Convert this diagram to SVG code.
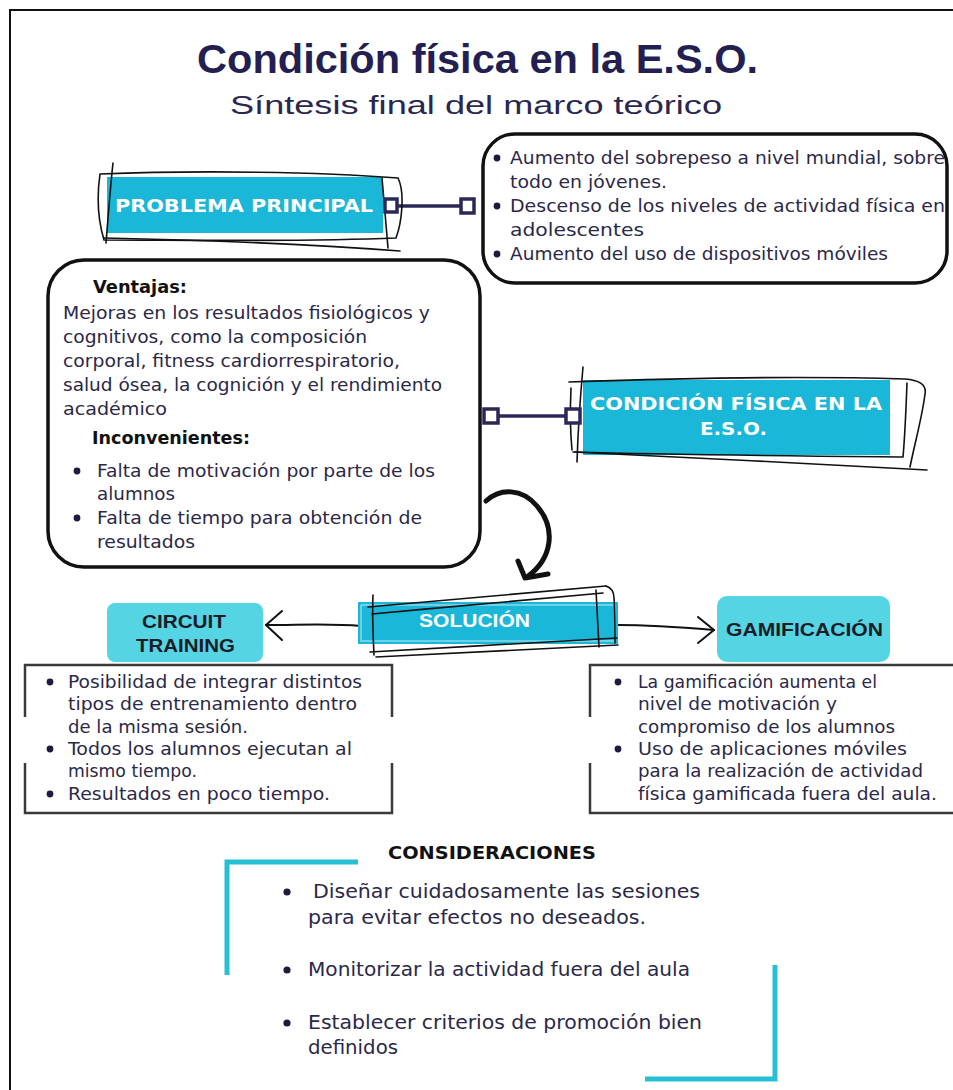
<svg xmlns="http://www.w3.org/2000/svg" width="953" height="1090" viewBox="0 0 953 1090">
  <style>
    .frame { fill: none; stroke: #111; stroke-width: 2; }
    .title { font-family: "Liberation Sans", Arial, sans-serif; font-weight: 700; font-size: 40px; fill: #231f52; }
    .sub { font-family: "Liberation Sans", Arial, sans-serif; font-size: 26px; fill: #2a2750; }
    .body { font-family: "DejaVu Sans", "Liberation Sans", sans-serif; font-size: 18px; fill: #2b2848; }
    .body19 { font-family: "DejaVu Sans", "Liberation Sans", sans-serif; font-size: 19px; fill: #2b2848; }
    .bold { font-family: "DejaVu Sans", "Liberation Sans", sans-serif; font-weight: 700; font-size: 17px; fill: #111; }
    .lblw { font-family: "DejaVu Sans", "Liberation Sans", sans-serif; font-weight: 700; font-size: 18px; fill: #fff; }
    .lblw2 { font-family: "Liberation Sans", Arial, sans-serif; font-weight: 700; font-size: 19px; fill: #fff; }
    .lbld { font-family: "Liberation Sans", Arial, sans-serif; font-weight: 700; font-size: 19px; fill: #1c1c28; }
    .bullet { fill: #1e1b3e; }
    .cyan { fill: #1ab7d8; }
    .cyanlight { fill: #55d5e3; }
    .roundbox { fill: #fff; stroke: #111; stroke-width: 3.5; }
    .sketch { fill: none; stroke: #111; stroke-width: 1.6; stroke-linecap: round; }
    .link { fill: none; stroke: #2b2858; stroke-width: 3.5; }
    .port { fill: #fff; stroke: #2b2858; stroke-width: 3.5; }
    .bracket { fill: none; stroke: #3a3a3a; stroke-width: 2.5; }
    .cbracket { fill: none; stroke: #27bfd5; stroke-width: 5; }
    .arrow { fill: none; stroke: #111; stroke-width: 2; stroke-linecap: round; stroke-linejoin: round; }
    .bigarrow { fill: none; stroke: #111; stroke-width: 5; stroke-linecap: round; stroke-linejoin: round; }
  </style>

  <rect x="0" y="0" width="953" height="1090" fill="#fff"/>
  <path class="frame" d="M10,1090 V10 H953"/>

  <g id="header">
    <text class="title" x="197" y="73" textLength="561" lengthAdjust="spacingAndGlyphs">Condición física en la E.S.O.</text>
    <text class="sub" x="230" y="114" textLength="492" lengthAdjust="spacingAndGlyphs">Síntesis final del marco teórico</text>
  </g>

  <!-- connectors -->
  <g id="connectors">
    <line class="link" x1="397" y1="206" x2="461" y2="206"/>
    <line class="link" x1="498" y1="416" x2="566" y2="416"/>
    <!-- curved arrow towards the solution -->
    <path class="bigarrow" d="M486,501 C500,488 522,488 537,506 C556,528 553,558 527,577"/>
    <path class="bigarrow" d="M518,561 L525,578 L548,574"/>
    <!-- solution to circuit training -->
    <path class="arrow" d="M361,626 C330,623 300,625 266,625"/>
    <path class="arrow" d="M282,611 L266,625 L282,640"/>
    <!-- solution to gamification -->
    <path class="arrow" d="M618,625 C650,625 690,628 714,630"/>
    <path class="arrow" d="M698,617 L714,630 L698,643"/>
  </g>

  <g id="problema-principal">
    <rect class="cyan" x="107" y="177" width="276" height="56"/>
    <path class="sketch" d="M100,174 C200,170 320,172 398,178 C405,192 402,222 396,238 C300,242 180,240 104,240 C98,220 97,195 100,174"/>
    <path class="sketch" d="M113,163 C110,190 108,220 106,243"/>
    <path class="sketch" d="M104,238 C200,240 320,245 400,251"/>
    <path class="sketch" d="M382,178 C384,200 386,225 388,248"/>
    <text class="lblw" x="115" y="212" textLength="258" lengthAdjust="spacingAndGlyphs">PROBLEMA PRINCIPAL</text>
    <rect class="port" x="385" y="199" width="12" height="13"/>
  </g>

  <g id="problema-lista">
    <rect class="roundbox" x="483" y="134" width="464" height="149" rx="32"/>
    <rect class="port" x="461" y="199" width="13" height="14"/>
    <circle class="bullet" cx="497" cy="158" r="3.4"/>
    <circle class="bullet" cx="497" cy="206" r="3.4"/>
    <circle class="bullet" cx="497" cy="254" r="3.4"/>
    <text class="body" x="510" y="164" textLength="435" lengthAdjust="spacingAndGlyphs">Aumento del sobrepeso a nivel mundial, sobre</text>
    <text class="body" x="510" y="188" textLength="157" lengthAdjust="spacingAndGlyphs">todo en jóvenes.</text>
    <text class="body" x="510" y="212" textLength="435" lengthAdjust="spacingAndGlyphs">Descenso de los niveles de actividad física en</text>
    <text class="body" x="510" y="236" textLength="134" lengthAdjust="spacingAndGlyphs">adolescentes</text>
    <text class="body" x="510" y="260" textLength="378" lengthAdjust="spacingAndGlyphs">Aumento del uso de dispositivos móviles</text>
  </g>

  <g id="ventajas">
    <rect class="roundbox" x="48" y="260" width="432" height="307" rx="36"/>
    <rect class="port" x="484" y="409" width="14" height="14"/>
    <text class="bold" x="93" y="293" textLength="94" lengthAdjust="spacingAndGlyphs">Ventajas:</text>
    <text class="body" x="63" y="319" textLength="367" lengthAdjust="spacingAndGlyphs">Mejoras en los resultados fisiológicos y</text>
    <text class="body" x="63" y="343" textLength="304" lengthAdjust="spacingAndGlyphs">cognitivos, como la composición</text>
    <text class="body" x="63" y="367" textLength="337" lengthAdjust="spacingAndGlyphs">corporal, fitness cardiorrespiratorio,</text>
    <text class="body" x="63" y="391" textLength="379" lengthAdjust="spacingAndGlyphs">salud ósea, la cognición y el rendimiento</text>
    <text class="body" x="63" y="415" textLength="104" lengthAdjust="spacingAndGlyphs">académico</text>
    <text class="bold" x="92" y="444" textLength="158" lengthAdjust="spacingAndGlyphs">Inconvenientes:</text>
    <circle class="bullet" cx="77" cy="471" r="3.4"/>
    <circle class="bullet" cx="77" cy="518" r="3.4"/>
    <text class="body" x="97" y="477" textLength="338" lengthAdjust="spacingAndGlyphs">Falta de motivación por parte de los</text>
    <text class="body" x="97" y="500" textLength="78" lengthAdjust="spacingAndGlyphs">alumnos</text>
    <text class="body" x="97" y="524" textLength="325" lengthAdjust="spacingAndGlyphs">Falta de tiempo para obtención de</text>
    <text class="body" x="97" y="548" textLength="98" lengthAdjust="spacingAndGlyphs">resultados</text>
  </g>

  <g id="condicion-fisica">
    <rect class="cyan" x="583" y="380" width="307" height="75"/>
    <path class="sketch" d="M569,382 C680,378 800,376 905,379 C918,380 927,384 925,394 C922,418 915,442 910,467"/>
    <path class="sketch" d="M907,383 C906,410 905,435 903,457 C800,456 680,455 575,452"/>
    <path class="sketch" d="M583,367 C580,400 578,430 577,462"/>
    <path class="sketch" d="M571,388 C570,410 570,430 572,450"/>
    <path class="sketch" d="M573,452 C690,458 810,463 927,470"/>
    <rect class="port" x="566" y="409" width="14" height="14"/>
    <text class="lblw" x="590" y="410" textLength="292" lengthAdjust="spacingAndGlyphs">CONDICIÓN FÍSICA EN LA</text>
    <text class="lblw" x="700" y="435" textLength="67" lengthAdjust="spacingAndGlyphs">E.S.O.</text>
  </g>

  <g id="solucion">
    <rect class="cyan" x="358" y="602" width="260" height="42"/>
    <rect x="361" y="605" width="254" height="36" fill="none" stroke="#bfeef7" stroke-width="1"/>
    <path class="sketch" d="M368,607 C450,600 530,592 606,586"/>
    <path class="sketch" d="M372,614 C450,607 530,599 603,593"/>
    <path class="sketch" d="M373,595 C372,615 373,635 374,655"/>
    <path class="sketch" d="M596,590 C597,610 598,630 599,647"/>
    <path class="sketch" d="M606,586 C612,588 614,592 614,598 C615,612 615,628 615,643"/>
    <path class="sketch" d="M370,652 C450,647 540,643 617,638"/>
    <path class="sketch" d="M376,657 C460,653 545,648 618,645"/>
    <text class="lblw2" x="419" y="627" textLength="111" lengthAdjust="spacingAndGlyphs">SOLUCIÓN</text>
  </g>

  <g id="circuit-training">
    <rect class="cyanlight" x="107" y="603" width="156" height="59" rx="8"/>
    <text class="lbld" x="142" y="628" textLength="84" lengthAdjust="spacingAndGlyphs">CIRCUIT</text>
    <text class="lbld" x="136" y="652" textLength="99" lengthAdjust="spacingAndGlyphs">TRAINING</text>
  </g>

  <g id="circuit-lista">
    <path class="bracket" d="M25,717 V665 H392 V717"/>
    <path class="bracket" d="M25,763 V813 H392 V763"/>
    <circle class="bullet" cx="50" cy="682" r="3.4"/>
    <circle class="bullet" cx="50" cy="749" r="3.4"/>
    <circle class="bullet" cx="50" cy="794" r="3.4"/>
    <text class="body" x="68" y="688" textLength="294" lengthAdjust="spacingAndGlyphs">Posibilidad de integrar distintos</text>
    <text class="body" x="68" y="710" textLength="289" lengthAdjust="spacingAndGlyphs">tipos de entrenamiento dentro</text>
    <text class="body" x="68" y="733" textLength="180" lengthAdjust="spacingAndGlyphs">de la misma sesión.</text>
    <text class="body" x="68" y="755" textLength="284" lengthAdjust="spacingAndGlyphs">Todos los alumnos ejecutan al</text>
    <text class="body" x="68" y="777" textLength="129" lengthAdjust="spacingAndGlyphs">mismo tiempo.</text>
    <text class="body" x="68" y="800" textLength="262" lengthAdjust="spacingAndGlyphs">Resultados en poco tiempo.</text>
  </g>

  <g id="gamificacion">
    <rect class="cyanlight" x="717" y="596" width="173" height="66" rx="10"/>
    <text class="lbld" x="726" y="636" textLength="157" lengthAdjust="spacingAndGlyphs">GAMIFICACIÓN</text>
  </g>

  <g id="gamificacion-lista">
    <path class="bracket" d="M590,717 V665 H953"/>
    <path class="bracket" d="M590,763 V813 H953"/>
    <circle class="bullet" cx="618" cy="682" r="3.4"/>
    <circle class="bullet" cx="618" cy="749" r="3.4"/>
    <text class="body" x="638" y="688" textLength="239" lengthAdjust="spacingAndGlyphs">La gamificación aumenta el</text>
    <text class="body" x="638" y="710" textLength="199" lengthAdjust="spacingAndGlyphs">nivel de motivación y</text>
    <text class="body" x="638" y="733" textLength="257" lengthAdjust="spacingAndGlyphs">compromiso de los alumnos</text>
    <text class="body" x="638" y="755" textLength="269" lengthAdjust="spacingAndGlyphs">Uso de aplicaciones móviles</text>
    <text class="body" x="638" y="777" textLength="285" lengthAdjust="spacingAndGlyphs">para la realización de actividad</text>
    <text class="body" x="638" y="800" textLength="299" lengthAdjust="spacingAndGlyphs">física gamificada fuera del aula.</text>
  </g>

  <g id="consideraciones">
    <path class="cbracket" d="M227,975 V862 H358"/>
    <path class="cbracket" d="M775,965 V1079 H645"/>
    <text class="bold" x="388" y="859" textLength="208" lengthAdjust="spacingAndGlyphs">CONSIDERACIONES</text>
    <circle class="bullet" cx="287" cy="892" r="3.6"/>
    <circle class="bullet" cx="287" cy="970" r="3.6"/>
    <circle class="bullet" cx="287" cy="1023" r="3.6"/>
    <text class="body19" x="313" y="898" textLength="387" lengthAdjust="spacingAndGlyphs">Diseñar cuidadosamente las sesiones</text>
    <text class="body19" x="308" y="924" textLength="338" lengthAdjust="spacingAndGlyphs">para evitar efectos no deseados.</text>
    <text class="body19" x="308" y="976" textLength="382" lengthAdjust="spacingAndGlyphs">Monitorizar la actividad fuera del aula</text>
    <text class="body19" x="308" y="1029" textLength="394" lengthAdjust="spacingAndGlyphs">Establecer criterios de promoción bien</text>
    <text class="body19" x="308" y="1054" textLength="90" lengthAdjust="spacingAndGlyphs">definidos</text>
  </g>
</svg>
